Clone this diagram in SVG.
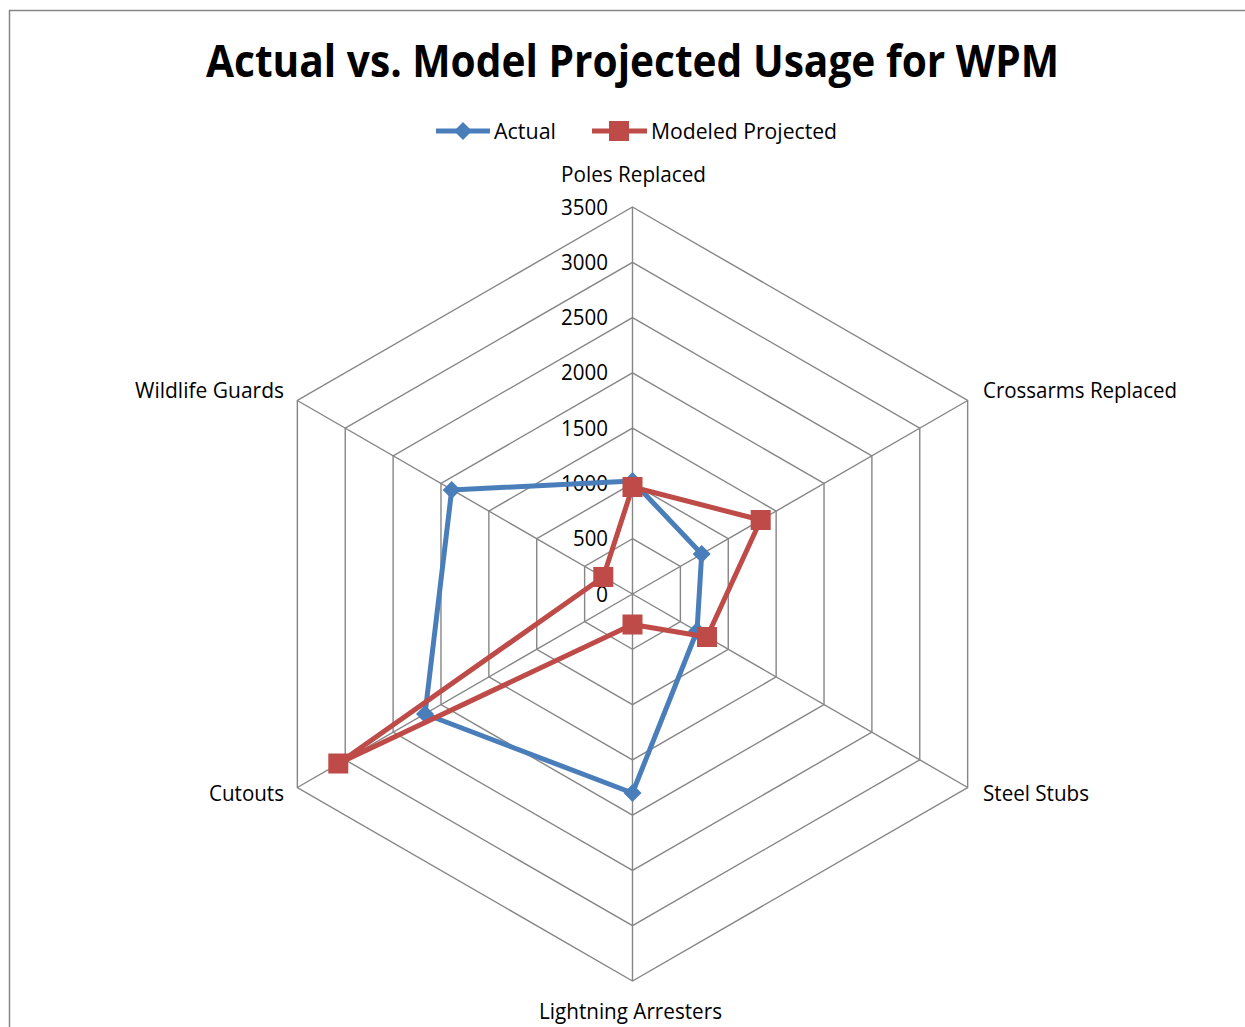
<svg xmlns="http://www.w3.org/2000/svg" width="1245" height="1027" viewBox="0 0 1245 1027">
<style>
.t{font-family:"Open Sans","Liberation Sans",sans-serif;fill:#000}
.lbl{font-size:21px}
.tick{font-size:21px;text-anchor:end}
.grid{fill:none;stroke:#868686;stroke-width:1.4}
.sa{fill:none;stroke:#4A7EBB;stroke-width:5;stroke-linejoin:round}
.sm{fill:none;stroke:#BE4B48;stroke-width:5;stroke-linejoin:round}
.ma{fill:#4A7EBB}
.mm{fill:#BE4B48}
</style>
<defs>
<path id="dia" d="M0,-9 L9,0 L0,9 L-9,0 Z"/>
<rect id="sq" x="-10" y="-10" width="20" height="20"/>
</defs>
<rect x="0" y="0" width="1245" height="1027" fill="#fff"/>
<rect x="9.5" y="10.5" width="1400" height="1200" fill="none" stroke="#868686" stroke-width="1.5"/>
<text id="title" class="t" x="632.5" y="77" font-size="44" font-weight="bold" text-anchor="middle" textLength="853" lengthAdjust="spacingAndGlyphs">Actual vs. Model Projected Usage for WPM</text>
<g id="legend">
<line x1="436" y1="131" x2="490" y2="131" class="sa"/>
<use href="#dia" x="463" y="131" class="ma"/>
<text class="t lbl" x="494" y="139" textLength="62" lengthAdjust="spacingAndGlyphs">Actual</text>
<line x1="592" y1="131" x2="647" y2="131" class="sm"/>
<use href="#sq" x="619" y="131" class="mm"/>
<text class="t lbl" x="651" y="139" textLength="186" lengthAdjust="spacingAndGlyphs">Modeled Projected</text>
</g>
<g id="grid">
<polygon class="grid" points="632.5,538.71 680.38,566.36 680.38,621.64 632.5,649.29 584.62,621.64 584.62,566.36"/>
<polygon class="grid" points="632.5,483.43 728.26,538.71 728.26,649.29 632.5,704.57 536.74,649.29 536.74,538.71"/>
<polygon class="grid" points="632.5,428.14 776.14,511.07 776.14,676.93 632.5,759.86 488.86,676.93 488.86,511.07"/>
<polygon class="grid" points="632.5,372.86 824.02,483.43 824.02,704.57 632.5,815.14 440.98,704.57 440.98,483.43"/>
<polygon class="grid" points="632.5,317.57 871.89,455.79 871.89,732.21 632.5,870.43 393.11,732.21 393.11,455.79"/>
<polygon class="grid" points="632.5,262.29 919.77,428.14 919.77,759.86 632.5,925.71 345.23,759.86 345.23,428.14"/>
<polygon class="grid" points="632.5,207 967.65,400.5 967.65,787.5 632.5,981 297.35,787.5 297.35,400.5"/>
<path class="grid" d="M632.5,594 L632.5,207 M632.5,594 L967.65,400.5 M632.5,594 L967.65,787.5 M632.5,594 L632.5,981 M632.5,594 L297.35,787.5 M632.5,594 L297.35,400.5"/>
</g>
<g id="ticks">
<text class="t tick" x="608" y="214.5" textLength="47" lengthAdjust="spacingAndGlyphs">3500</text>
<text class="t tick" x="608" y="269.8" textLength="47" lengthAdjust="spacingAndGlyphs">3000</text>
<text class="t tick" x="608" y="325.1" textLength="47" lengthAdjust="spacingAndGlyphs">2500</text>
<text class="t tick" x="608" y="380.4" textLength="47" lengthAdjust="spacingAndGlyphs">2000</text>
<text class="t tick" x="608" y="435.6" textLength="47" lengthAdjust="spacingAndGlyphs">1500</text>
<text class="t tick" x="608" y="490.9" textLength="47" lengthAdjust="spacingAndGlyphs">1000</text>
<text class="t tick" x="608" y="546.2" textLength="35" lengthAdjust="spacingAndGlyphs">500</text>
<text class="t tick" x="608" y="601.5">0</text>
</g>
<g id="axis-labels">
<text id="lbl-poles" class="t lbl" x="633.5" y="182" text-anchor="middle" textLength="145" lengthAdjust="spacingAndGlyphs">Poles Replaced</text>
<text id="lbl-crossarms" class="t lbl" x="983" y="398" textLength="194" lengthAdjust="spacingAndGlyphs">Crossarms Replaced</text>
<text id="lbl-steel" class="t lbl" x="983" y="801" textLength="106" lengthAdjust="spacingAndGlyphs">Steel Stubs</text>
<text id="lbl-lightning" class="t lbl" x="539" y="1019" textLength="183" lengthAdjust="spacingAndGlyphs">Lightning Arresters</text>
<text id="lbl-cutouts" class="t lbl" x="284" y="801" text-anchor="end" textLength="75" lengthAdjust="spacingAndGlyphs">Cutouts</text>
<text id="lbl-wildlife" class="t lbl" x="284" y="398" text-anchor="end" textLength="149" lengthAdjust="spacingAndGlyphs">Wildlife Guards</text>
</g>
<g id="series-actual">
<polygon class="sa" points="632.5,481 701.7,554 697,631 632.5,793 425,714 451.7,490"/>
<use href="#dia" x="632.5" y="481" class="ma"/>
<use href="#dia" x="701.7" y="554" class="ma"/>
<use href="#dia" x="697" y="631" class="ma"/>
<use href="#dia" x="632.5" y="793" class="ma"/>
<use href="#dia" x="425" y="714" class="ma"/>
<use href="#dia" x="451.7" y="490" class="ma"/>
</g>
<g id="series-modeled">
<polygon class="sm" points="632.5,487 760.7,520 707,637 632.5,624.5 338.3,763.5 603.3,577"/>
<use href="#sq" x="632.5" y="487" class="mm"/>
<use href="#sq" x="760.7" y="520" class="mm"/>
<use href="#sq" x="707" y="637" class="mm"/>
<use href="#sq" x="632.5" y="624.5" class="mm"/>
<use href="#sq" x="338.3" y="763.5" class="mm"/>
<use href="#sq" x="603.3" y="577" class="mm"/>
</g>
</svg>
